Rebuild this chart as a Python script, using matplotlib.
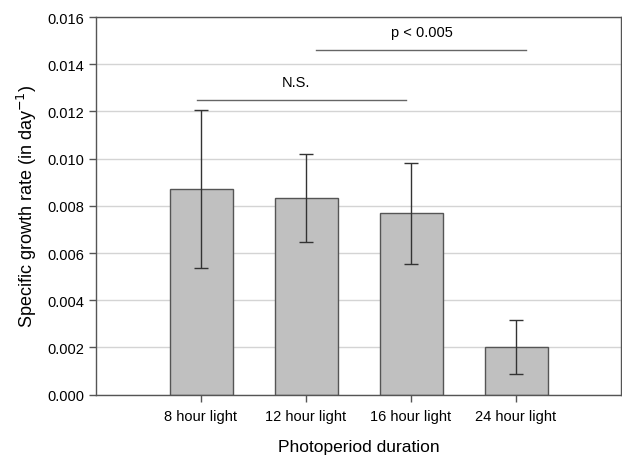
import matplotlib
matplotlib.use("Agg")
import matplotlib.pyplot as plt
import numpy as np

plt.rcParams['font.family'] = ['Liberation Sans', 'DejaVu Sans']

categories = ["8 hour light", "12 hour light", "16 hour light", "24 hour light"]
means = [0.00871, 0.00834, 0.00768, 0.00202]
errors = [0.00335, 0.00187, 0.00215, 0.00116]
yticks = [0.000, 0.002, 0.004, 0.006, 0.008, 0.010, 0.012, 0.014, 0.016]

fig = plt.figure(figsize=(6.22, 4.56), dpi=100)
ax = fig.add_axes([96/622, 1-395.7/456, 525/622, (395.7-18)/456])

x = np.arange(1, len(categories)+1)
ax.set_axisbelow(True)
ax.yaxis.grid(True, color='#d4d4d4', linewidth=1.0)
ax.bar(x, means, width=0.6, color='#c0c0c0', edgecolor='#555555', linewidth=1.0, zorder=2)
ax.errorbar(x, means, yerr=errors, fmt='none', ecolor='#333333', elinewidth=1.0,
            capsize=5, capthick=1.0, zorder=3)

ax.set_xlim(0, 5)
ax.set_ylim(0, 0.016)
ax.set_yticks(yticks)
ax.set_yticklabels([f"{v:.3f}" for v in yticks])
ax.set_xticks(x)
ax.set_xticklabels(categories)
for s in ax.spines.values():
    s.set_color('#555555')
    s.set_linewidth(1.0)
ax.tick_params(axis='both', direction='out', color='#555555', labelsize=10.5, length=5, width=1.0)
ax.tick_params(axis='x', pad=5)

ax.set_xlabel("Photoperiod duration", fontsize=12.5, labelpad=12)
ax.set_ylabel("Specific growth rate (in day$^{-1}$)", fontsize=13, labelpad=6)

# significance annotations
ax.plot([0.96, 2.95], [0.0125, 0.0125], color='#666666', linewidth=1.0)
ax.text(1.9, 0.01325, "N.S.", ha='center', va='center', fontsize=10.5)
ax.plot([2.095, 4.095], [0.0146, 0.0146], color='#666666', linewidth=1.0)
ax.text(3.1, 0.01537, "p < 0.005", ha='center', va='center', fontsize=10.5)

fig.savefig("out.png", dpi=100)
